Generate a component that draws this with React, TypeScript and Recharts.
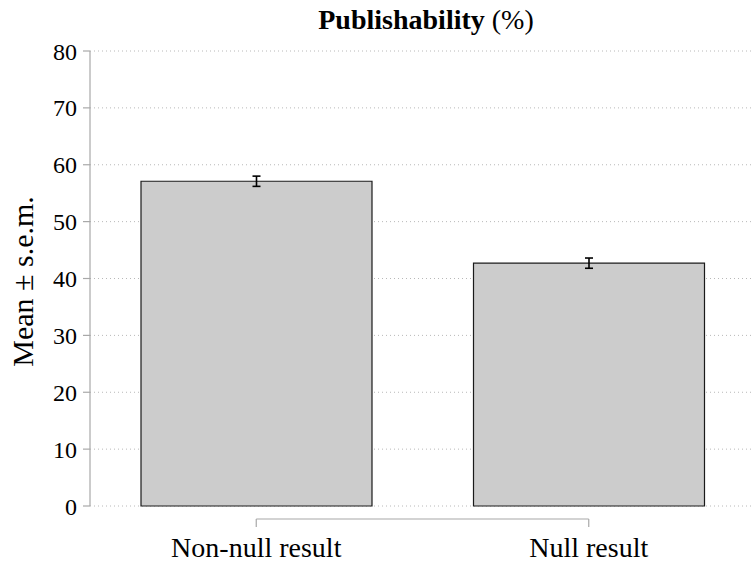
import React from 'react';
import { BarChart, Bar, XAxis, YAxis, CartesianGrid, ErrorBar } from 'recharts';

const categories = ['Non-null result', 'Null result'];
const means = [57.1, 42.7];
const sems = [0.9, 0.9];
const yTicks = [0, 10, 20, 30, 40, 50, 60, 70, 80];

const data = categories.map((name, i) => ({ name, mean: means[i], sem: sems[i] }));

const CHART_W = 755;
const CHART_H = 561;
const M_TOP = 51;
const Y_AXIS_W = 90;
const X_AXIS_H = 55;
const PLOT_W = CHART_W - Y_AXIS_W;
const BAND = PLOT_W / categories.length;
const PLOT_BOTTOM = CHART_H - X_AXIS_H;
const FONT = '"Liberation Serif", "Times New Roman", Times, serif';
const AXIS_GRAY = '#a8a8a8';

const XTick = (props: any) => {
  const { x, index, payload } = props;
  const lineY = PLOT_BOTTOM + 13;
  return (
    <g>
      {index === 0 && (
        <line x1={x} y1={lineY} x2={x + BAND * (categories.length - 1)} y2={lineY} stroke={AXIS_GRAY} strokeWidth={1.2} />
      )}
      <line x1={x} y1={lineY} x2={x} y2={lineY + 8} stroke={AXIS_GRAY} strokeWidth={1.2} />
      <text x={x} y={PLOT_BOTTOM + 51} textAnchor="middle" fontFamily={FONT} fontSize={28} fill="#000">
        {payload.value}
      </text>
    </g>
  );
};

const YLabel = () => (
  <text
    x={0}
    y={0}
    transform={`translate(33, ${(M_TOP + PLOT_BOTTOM) / 2 + 3}) rotate(-90)`}
    textAnchor="middle"
    fontFamily={FONT}
    fontSize={30}
    fill="#000"
  >
    Mean ± s.e.m.
  </text>
);

export default function App() {
  return (
    <div style={{ position: 'absolute', left: 0, top: 0, width: 753, height: 561, overflow: 'hidden', background: '#fff' }}>
      <BarChart
        width={CHART_W}
        height={CHART_H}
        data={data}
        margin={{ top: M_TOP, right: 0, bottom: 0, left: 0 }}
        barCategoryGap="15%"
      >
        <CartesianGrid horizontal vertical={false} stroke="#b8b8b8" strokeDasharray="1 3" />
        <XAxis
          dataKey="name"
          height={X_AXIS_H}
          axisLine={false}
          tickLine={false}
          tick={<XTick />}
          interval={0}
        />
        <YAxis
          width={Y_AXIS_W}
          domain={[0, 80]}
          ticks={yTicks}
          interval={0}
          axisLine={{ stroke: AXIS_GRAY, strokeWidth: 1.2 }}
          tickLine={{ stroke: AXIS_GRAY, strokeWidth: 1.2 }}
          tickSize={7}
          tickMargin={6}
          tick={{ fill: '#000', fontFamily: FONT, fontSize: 24 }}
          label={<YLabel />}
        />
        <Bar dataKey="mean" barSize={231} fill="#cccccc" stroke="#1a1a1a" strokeWidth={1.2} isAnimationActive={false}>
          <ErrorBar dataKey="sem" width={4} stroke="#000" strokeWidth={1.6} />
        </Bar>
      </BarChart>
      <svg width={753} height={45} style={{ position: 'absolute', left: 0, top: 0 }}>
        <text x={426} y={29} textAnchor="middle" fontFamily={FONT} fontSize={28} fill="#000">
          <tspan fontWeight="bold">Publishability</tspan>
          <tspan> (%)</tspan>
        </text>
      </svg>
    </div>
  );
}
